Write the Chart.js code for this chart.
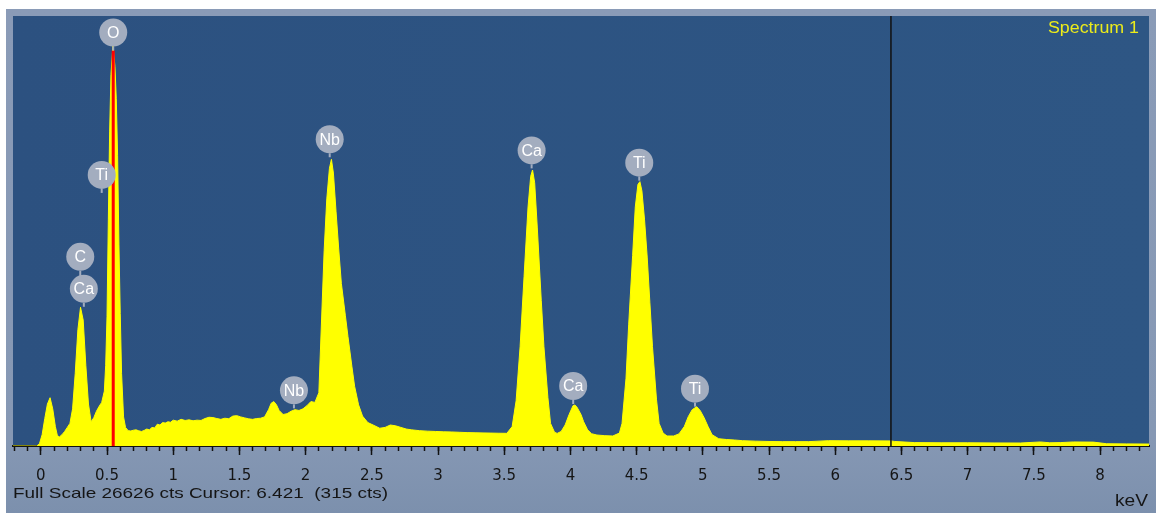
<!DOCTYPE html>
<html>
<head>
<meta charset="utf-8">
<script src="https://cdn.jsdelivr.net/npm/chart.js@4.4.1/dist/chart.umd.min.js"></script>
<style>
  html, body { margin: 0; padding: 0; background: #fff; }
  #wrap { width: 1165px; height: 513px; }
</style>
</head>
<body>
<div id="wrap"><canvas id="spectrum"></canvas></div>
<script>
// EDS spectrum (keV / counts)
const energyKeV = [
  -0.21, -0.03, -0.01, 0.01, 0.03, 0.05, 0.07, 0.09, 0.11, 0.125, 0.14, 0.16, 0.18, 0.20,
  0.22, 0.24, 0.26, 0.28, 0.30, 0.32, 0.34, 0.36, 0.38, 0.40, 0.42, 0.44, 0.46, 0.48,
  0.49, 0.50, 0.51, 0.52, 0.53, 0.545, 0.56, 0.57, 0.58, 0.59, 0.60, 0.61, 0.625, 0.64,
  0.66, 0.68, 0.70, 0.72, 0.74, 0.76, 0.78, 0.80, 0.82, 0.84, 0.86, 0.88, 0.90, 0.92,
  0.94, 0.96, 0.98, 1.00, 1.03, 1.06, 1.09, 1.12, 1.15, 1.18, 1.21, 1.24, 1.27, 1.30,
  1.33, 1.36, 1.39, 1.42, 1.45, 1.48, 1.51, 1.54, 1.57, 1.60, 1.63, 1.66, 1.69, 1.72,
  1.74, 1.76, 1.78, 1.80, 1.83, 1.86, 1.89, 1.92, 1.95, 1.98, 2.01, 2.04, 2.07, 2.10,
  2.12, 2.14, 2.16, 2.18, 2.195, 2.21, 2.23, 2.25, 2.27, 2.30, 2.32, 2.35, 2.37, 2.40,
  2.43, 2.47, 2.51, 2.56, 2.60, 2.64, 2.68, 2.72, 2.76, 2.80, 2.86, 2.92, 2.98, 3.04,
  3.10, 3.16, 3.22, 3.28, 3.34, 3.40, 3.46, 3.52, 3.56, 3.59, 3.62, 3.65, 3.68, 3.70,
  3.714, 3.73, 3.75, 3.78, 3.80, 3.83, 3.85, 3.88, 3.90, 3.93, 3.96, 3.99, 4.02, 4.034,
  4.05, 4.08, 4.10, 4.13, 4.16, 4.20, 4.26, 4.32, 4.37, 4.39, 4.42, 4.44, 4.47, 4.49,
  4.51, 4.525, 4.54, 4.56, 4.58, 4.60, 4.62, 4.65, 4.67, 4.70, 4.73, 4.78, 4.82, 4.86,
  4.89, 4.92, 4.954, 4.98, 5.01, 5.04, 5.07, 5.12, 5.18, 5.24, 5.30, 5.40, 5.50, 5.60,
  5.70, 5.80, 5.95, 6.10, 6.25, 6.42, 6.45, 6.60, 6.80, 7.00, 7.20, 7.40, 7.55, 7.62,
  7.70, 7.80, 7.95, 8.05, 8.20, 8.37
];
const counts = [
  0, 0, 150, 700, 1700, 2600, 2990, 2300, 1200, 650, 560, 700, 900, 1150,
  1400, 2300, 4500, 7200, 8590, 7800, 5000, 2600, 1500, 1750, 2150, 2450, 2700, 3400,
  5000, 8000, 14000, 19500, 23000, 24800, 23500, 21500, 18000, 12500, 8200, 4500, 1800, 1150,
  950, 930, 980, 1000, 940, 900, 960, 1050, 1000, 1150, 1120, 1350, 1300, 1450,
  1420, 1500, 1470, 1600, 1540, 1650, 1580, 1620, 1560, 1600, 1580, 1700, 1780, 1760,
  1700, 1650, 1720, 1690, 1850, 1880, 1800, 1740, 1680, 1650, 1700, 1720, 1800, 2250,
  2650, 2750, 2550, 2200, 1950, 2000, 2150, 2250, 2200, 2300, 2500, 2750, 2700, 3300,
  7680, 12100, 15300, 17200, 17750, 16900, 14500, 12200, 10070, 8100, 6770, 4900, 3700, 2550,
  1850, 1450, 1300, 1100, 1150, 1300, 1250, 1150, 1050, 1000, 950, 920, 900, 880,
  870, 850, 830, 820, 810, 800, 790, 785, 1200, 2800, 6150, 10500, 14800, 16700,
  17090, 16300, 13500, 9000, 6150, 3000, 1400, 850, 780, 900, 1300, 1950, 2500, 2540,
  2400, 1950, 1500, 1000, 760, 680, 640, 620, 800, 1400, 4200, 7500, 11800, 14800,
  16200, 16370, 15800, 14000, 11700, 8900, 6150, 2900, 1400, 800, 620, 620, 750, 1200,
  1815, 2250, 2435, 2200, 1750, 1200, 700, 450, 400, 370, 330, 300, 280, 270,
  270, 270, 330, 320, 320, 315, 280, 210, 200, 200, 190, 185, 250, 200,
  210, 250, 240, 140, 130, 120
];

// peak labels: element, line energy (keV), height of the stem foot (counts)
const labelNames = ['O', 'Ti', 'Ca', 'C', 'Nb', 'Nb', 'Ca', 'Ca', 'Ti', 'Ti'];
const labelKeV = [0.547, 0.46, 0.325, 0.298, 1.912, 2.182, 3.707, 4.021, 4.52, 4.941];
const labelCts = [24490, 15670, 8620, 8620, 2330, 17880, 17190, 2600, 16430, 2435];

const fullScale = 26626;
const cursorKeV = 6.421;
const cursorCts = 315;
const xMin = -0.21, xMax = 8.37;
const tickValues = [0, 0.5, 1, 1.5, 2, 2.5, 3, 3.5, 4, 4.5, 5, 5.5, 6, 6.5, 7, 7.5, 8];
const tickLabels = ['0', '0.5', '1', '1.5', '2', '2.5', '3', '3.5', '4', '4.5', '5', '5.5', '6', '6.5', '7', '7.5', '8'];

Chart.defaults.font.family = 'DejaVu Sans';

const spectrumData = energyKeV.map((e, i) => ({x: e, y: counts[i]}));

// the original screen text is a bit wide, so stretch it to the width it has there
function wideText(ctx, text, x, y, width, align) {
  const w = ctx.measureText(text).width;
  const k = width / w;
  ctx.save();
  ctx.translate(align === 'right' ? x - width : x, y);
  ctx.scale(k, 1);
  ctx.textAlign = 'left';
  ctx.fillText(text, 0, 0);
  ctx.restore();
}

// frame, plot background and fixed texts
const framePlugin = {
  id: 'frame',
  beforeDraw(chart) {
    const {ctx, chartArea: a, width, height} = chart;
    ctx.save();
    ctx.fillStyle = '#ffffff';
    ctx.fillRect(0, 0, width, height);
    const g = ctx.createLinearGradient(0, a.top - 7, 0, height);
    g.addColorStop(0, '#8a9bb7');
    g.addColorStop(0.85, '#8698b4');
    g.addColorStop(1, '#7c90ad');
    ctx.fillStyle = g;
    ctx.fillRect(a.left - 7, a.top - 7, a.right - a.left + 14, height - a.top + 7);
    const pg = ctx.createLinearGradient(a.left, 0, a.right, 0);
    pg.addColorStop(0, '#2c5180');
    pg.addColorStop(1, '#2e5684');
    ctx.fillStyle = pg;
    ctx.fillRect(a.left, a.top, a.right - a.left, a.bottom - a.top);
    ctx.restore();
  },
  afterDraw(chart) {
    const {ctx, chartArea: a} = chart;
    ctx.save();
    ctx.textBaseline = 'alphabetic';
    ctx.font = '16px "Liberation Sans"';
    ctx.fillStyle = '#ecec1a';
    wideText(ctx, 'Spectrum 1', a.right - 10, a.top + 17, 91, 'right');
    ctx.fillStyle = '#151515';
    ctx.font = '15px "Liberation Sans"';
    wideText(ctx, 'Full Scale ' + fullScale + ' cts Cursor: ' + cursorKeV.toFixed(3) + '  (' + cursorCts + ' cts)', a.left, 497.5, 375, 'left');
    ctx.font = '16px "Liberation Sans"';
    wideText(ctx, 'keV', a.right - 1, 505.5, 33, 'right');
    ctx.restore();
  }
};

// round element badges with a short stem down to the peak
const badgePlugin = {
  id: 'badges',
  afterDatasetsDraw(chart) {
    const {ctx} = chart;
    const xs = chart.scales.x, ys = chart.scales.y;
    const r = 14, stem = 4, gap = 32;
    const placed = [];
    ctx.save();
    labelNames.forEach((name, i) => {
      const px = xs.getPixelForValue(labelKeV[i]);
      const py = ys.getPixelForValue(labelCts[i]);
      let level = 0;
      placed.forEach(p => { if (p.cts === labelCts[i] && Math.abs(p.px - px) < 2 * r) level = Math.max(level, p.level + 1); });
      placed.push({px, cts: labelCts[i], level});
      const cy = py - stem - r - level * gap;
      ctx.strokeStyle = '#a3adbf';
      ctx.lineWidth = 2;
      ctx.beginPath();
      ctx.moveTo(px, level ? cy + r + 6 : py);
      ctx.lineTo(px, cy + r);
      ctx.stroke();
      ctx.fillStyle = '#a3adbf';
      ctx.beginPath();
      ctx.arc(px, cy, r, 0, Math.PI * 2);
      ctx.fill();
      ctx.fillStyle = '#ffffff';
      ctx.font = '16px "Liberation Sans"';
      ctx.textAlign = 'center';
      ctx.textBaseline = 'middle';
      ctx.fillText(name, px, cy + 1);
    });
    ctx.restore();
  }
};

const config = {
  type: 'line',
  data: {
    datasets: [
      {
        label: 'O line',
        data: [{x: labelKeV[0], y: 0}, {x: labelKeV[0], y: labelCts[0]}],
        borderColor: '#ff0000',
        borderWidth: 3,
        pointRadius: 0,
        fill: false,
        order: 1
      },
      {
        label: 'Cursor',
        data: [{x: cursorKeV, y: 0}, {x: cursorKeV, y: fullScale}],
        borderColor: '#111111',
        borderWidth: 1.5,
        pointRadius: 0,
        fill: false,
        order: 2
      },
      {
        label: 'Spectrum 1',
        data: spectrumData,
        borderColor: '#ffff00',
        backgroundColor: '#ffff00',
        borderWidth: 1,
        pointRadius: 0,
        tension: 0,
        fill: 'origin',
        order: 3
      }
    ]
  },
  options: {
    responsive: true,
    maintainAspectRatio: false,
    animation: false,
    layout: { padding: { left: 13, right: 16, top: 16, bottom: 0 } },
    plugins: {
      legend: { display: false },
      tooltip: { enabled: false }
    },
    scales: {
      x: {
        type: 'linear',
        position: 'bottom',
        min: xMin,
        max: xMax,
        bounds: 'data',
        afterBuildTicks: s => { s.ticks = tickValues.map(v => ({value: v})); },
        afterFit: s => { s.height = 67; },
        grid: { drawOnChartArea: false, drawTicks: true, tickLength: 9, tickWidth: 1.5, tickColor: '#111111' },
        border: { display: true, color: '#111111', width: 2 },
        ticks: {
          autoSkip: false,
          maxRotation: 0,
          padding: 12,
          color: '#151515',
          font: { size: 15 },
          callback: (v, i) => tickLabels[i]
        }
      },
      xMinor: {
        type: 'linear',
        axis: 'x',
        position: { y: 0 },
        min: xMin,
        max: xMax,
        bounds: 'data',
        afterBuildTicks: s => {
          const t = [];
          for (let i = -2; i <= 83; i++) t.push({value: i / 10});
          s.ticks = t;
        },
        grid: { drawOnChartArea: false, drawTicks: true, tickLength: 5, tickWidth: 1.5, tickColor: '#111111' },
        border: { display: false },
        ticks: { display: false }
      },
      y: {
        type: 'linear',
        display: false,
        min: 0,
        max: fullScale
      }
    }
  },
  plugins: [framePlugin, badgePlugin]
};

var spectrumChart = new Chart(document.getElementById('spectrum'), config);
</script>
</body>
</html>
